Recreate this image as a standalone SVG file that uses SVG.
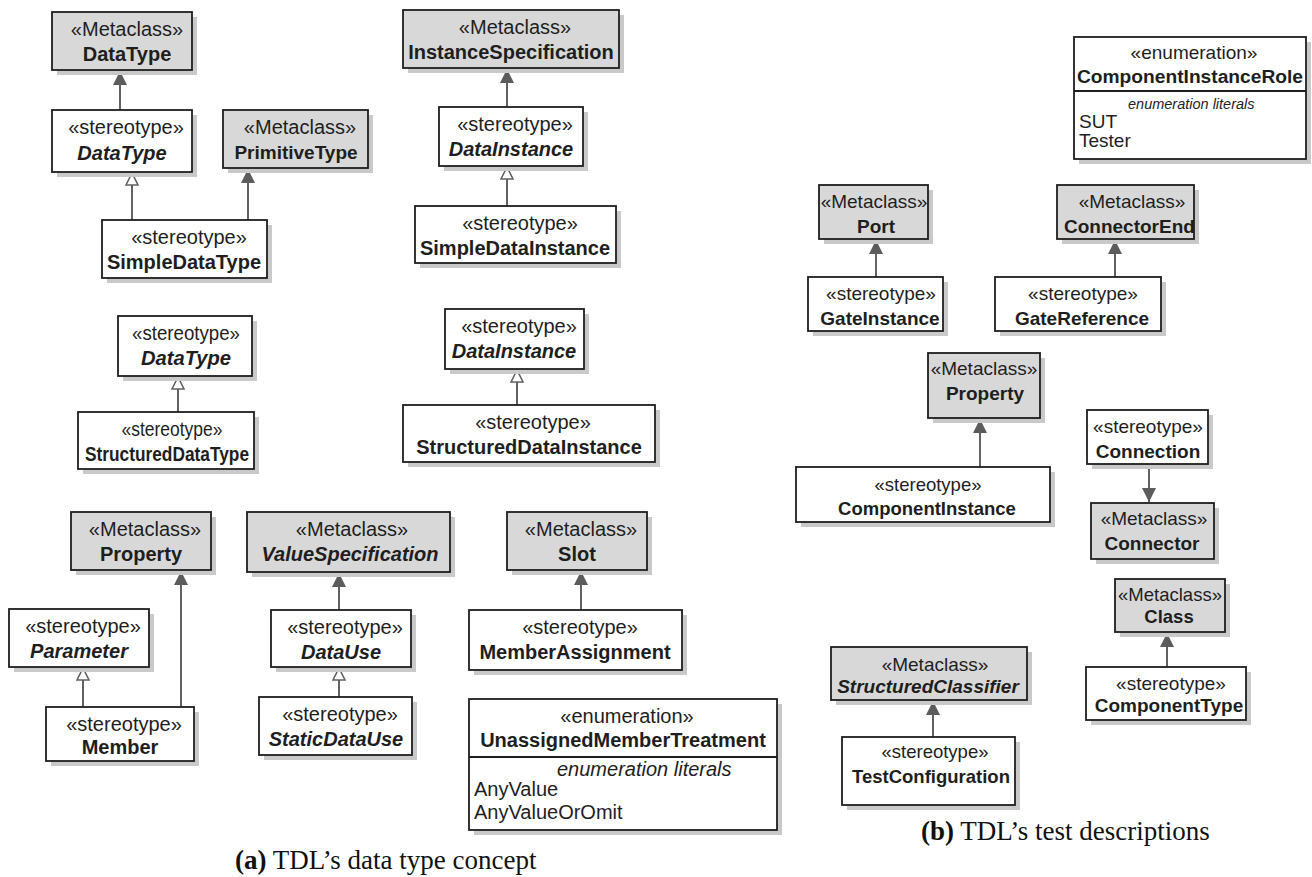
<svg xmlns="http://www.w3.org/2000/svg" width="1312" height="877" viewBox="0 0 1312 877">
<style>
.sh{fill:#c9c9c9}
.meta{fill:#d8d8d8;stroke:#1e1e1e;stroke-width:1.8}
.st{fill:#ffffff;stroke:#1e1e1e;stroke-width:1.8}
.div{stroke:#1e1e1e;stroke-width:1.8}
text{font-family:"Liberation Sans",Arial,Helvetica,sans-serif;font-size:20px;fill:#1e1e1e}
.r text{font-size:19px}
.s185 text{font-size:18.5px}
.c{text-anchor:middle}
.b{font-weight:bold}
.i{font-style:italic}
.edge{stroke:#626262;stroke-width:2;fill:none}
.cap{font-family:"Liberation Serif","Times New Roman",serif;font-size:27px;fill:#111}
</style>
<defs>
<marker id="filled" viewBox="0 0 14 14" refX="14" refY="7" markerWidth="14" markerHeight="14" markerUnits="userSpaceOnUse" orient="auto">
<path d="M0,0 L14,7 L0,14 z" fill="#5c5c5c"/>
</marker>
<marker id="hollow" viewBox="0 0 14 14" refX="13" refY="7" markerWidth="14" markerHeight="14" markerUnits="userSpaceOnUse" orient="auto">
<path d="M1,1 L13,7 L1,13 z" fill="#ffffff" stroke="#626262" stroke-width="1.6"/>
</marker>
<clipPath id="clipCE"><rect x="1057" y="185" width="137" height="54"/></clipPath>
</defs>

<g id="connectors">
<line class="edge" x1="120" y1="110" x2="120" y2="71" marker-end="url(#filled)"/>
<line class="edge" x1="132" y1="220" x2="132" y2="173" marker-end="url(#hollow)"/>
<line class="edge" x1="248" y1="220" x2="248" y2="169" marker-end="url(#filled)"/>
<line class="edge" x1="507" y1="107" x2="507" y2="69" marker-end="url(#filled)"/>
<line class="edge" x1="507" y1="206" x2="507" y2="167" marker-end="url(#hollow)"/>
<line class="edge" x1="178" y1="412" x2="178" y2="377" marker-end="url(#hollow)"/>
<line class="edge" x1="517" y1="405" x2="517" y2="370" marker-end="url(#hollow)"/>
<line class="edge" x1="83" y1="707" x2="83" y2="668" marker-end="url(#hollow)"/>
<line class="edge" x1="181" y1="707" x2="181" y2="571" marker-end="url(#filled)"/>
<line class="edge" x1="339" y1="610" x2="339" y2="573" marker-end="url(#filled)"/>
<line class="edge" x1="339" y1="697" x2="339" y2="668" marker-end="url(#hollow)"/>
<line class="edge" x1="581" y1="610" x2="581" y2="571" marker-end="url(#filled)"/>
<line class="edge" x1="876" y1="277" x2="876" y2="240" marker-end="url(#filled)"/>
<line class="edge" x1="1115" y1="277" x2="1115" y2="240" marker-end="url(#filled)"/>
<line class="edge" x1="980" y1="467" x2="980" y2="419" marker-end="url(#filled)"/>
<line class="edge" x1="1149" y1="464" x2="1149" y2="502" marker-end="url(#filled)"/>
<line class="edge" x1="1167" y1="667" x2="1167" y2="633" marker-end="url(#filled)"/>
<line class="edge" x1="933" y1="737" x2="933" y2="701" marker-end="url(#filled)"/>
</g>

<!-- (a) -->
<g id="mDataType"><rect class="sh" x="57" y="17" width="140" height="58"/><rect class="meta" x="52" y="12" width="140" height="58"/>
<text class="c" x="127" y="36">«Metaclass»</text><text class="c b" x="127" y="61">DataType</text></g>

<g id="sDataType1"><rect class="sh" x="57" y="115" width="140" height="62"/><rect class="st" x="52" y="110" width="140" height="62"/>
<text class="c" x="126" y="134">«stereotype»</text><text class="c b i" x="122" y="160">DataType</text></g>

<g id="mPrimitiveType"><rect class="sh" x="228" y="115" width="145" height="58"/><rect class="meta" x="223" y="110" width="145" height="58"/>
<text class="c" x="300" y="134">«Metaclass»</text><text class="c b" x="296" y="159" style="font-size:19px">PrimitiveType</text></g>

<g id="sSimpleDataType"><rect class="sh" x="107" y="225" width="165" height="58"/><rect class="st" x="102" y="220" width="165" height="58"/>
<text class="c" x="189" y="244">«stereotype»</text><text class="c b" x="184" y="269">SimpleDataType</text></g>

<g id="mInstanceSpecification"><rect class="sh" x="408" y="15" width="216" height="58"/><rect class="meta" x="403" y="10" width="216" height="58"/>
<text class="c" x="515" y="34">«Metaclass»</text><text class="c b" x="511" y="59">InstanceSpecification</text></g>

<g id="sDataInstance1"><rect class="sh" x="444" y="112" width="144" height="59"/><rect class="st" x="439" y="107" width="144" height="59"/>
<text class="c" x="515" y="131">«stereotype»</text><text class="c b i" x="511" y="156">DataInstance</text></g>

<g id="sSimpleDataInstance"><rect class="sh" x="420" y="211" width="201" height="57"/><rect class="st" x="415" y="206" width="201" height="57"/>
<text class="c" x="520" y="230">«stereotype»</text><text class="c b" x="515" y="255">SimpleDataInstance</text></g>

<g id="sDataType2"><rect class="sh" x="123" y="321" width="134" height="60"/><rect class="st" x="118" y="316" width="134" height="60"/>
<text class="c" x="186" y="340" textLength="108" lengthAdjust="spacingAndGlyphs">«stereotype»</text><text class="c b i" x="186" y="365" textLength="90" lengthAdjust="spacingAndGlyphs">DataType</text></g>

<g id="sStructuredDataType"><rect class="sh" x="83" y="417" width="176" height="57"/><rect class="st" x="78" y="412" width="176" height="57"/>
<text class="c" x="172" y="436" textLength="101" lengthAdjust="spacingAndGlyphs">«stereotype»</text><text class="c b" x="167" y="461" textLength="164" lengthAdjust="spacingAndGlyphs">StructuredDataType</text></g>

<g id="sDataInstance2"><rect class="sh" x="450" y="314" width="139" height="60"/><rect class="st" x="445" y="309" width="139" height="60"/>
<text class="c" x="519" y="333">«stereotype»</text><text class="c b i" x="514" y="358">DataInstance</text></g>

<g id="sStructuredDataInstance"><rect class="sh" x="408" y="410" width="252" height="57"/><rect class="st" x="403" y="405" width="252" height="57"/>
<text class="c" x="533" y="429">«stereotype»</text><text class="c b" x="529" y="454">StructuredDataInstance</text></g>

<g id="mProperty1"><rect class="sh" x="76" y="517" width="140" height="58"/><rect class="meta" x="71" y="512" width="140" height="58"/>
<text class="c" x="145" y="536">«Metaclass»</text><text class="c b" x="141" y="561">Property</text></g>

<g id="sParameter"><rect class="sh" x="14" y="614" width="140" height="58"/><rect class="st" x="9" y="609" width="140" height="58"/>
<text class="c" x="83" y="633">«stereotype»</text><text class="c b i" x="79" y="658">Parameter</text></g>

<g id="sMember"><rect class="sh" x="51" y="712" width="148" height="54"/><rect class="st" x="46" y="707" width="148" height="54"/>
<text class="c" x="124" y="731">«stereotype»</text><text class="c b" x="120" y="754">Member</text></g>

<g id="mValueSpecification"><rect class="sh" x="252" y="517" width="203" height="60"/><rect class="meta" x="247" y="512" width="203" height="60"/>
<text class="c" x="352" y="536">«Metaclass»</text><text class="c b i" x="350" y="561">ValueSpecification</text></g>

<g id="sDataUse"><rect class="sh" x="276" y="615" width="140" height="57"/><rect class="st" x="271" y="610" width="140" height="57"/>
<text class="c" x="345" y="634">«stereotype»</text><text class="c b i" x="341" y="659">DataUse</text></g>

<g id="sStaticDataUse"><rect class="sh" x="264" y="702" width="153" height="58"/><rect class="st" x="259" y="697" width="153" height="58"/>
<text class="c" x="340" y="721">«stereotype»</text><text class="c b i" x="336" y="746">StaticDataUse</text></g>

<g id="mSlot"><rect class="sh" x="512" y="517" width="140" height="58"/><rect class="meta" x="507" y="512" width="140" height="58"/>
<text class="c" x="581" y="536">«Metaclass»</text><text class="c b" x="577" y="561">Slot</text></g>

<g id="sMemberAssignment"><rect class="sh" x="474" y="615" width="213" height="60"/><rect class="st" x="469" y="610" width="213" height="60"/>
<text class="c" x="580" y="634">«stereotype»</text><text class="c b" x="575" y="659">MemberAssignment</text></g>

<g id="eUnassignedMemberTreatment"><rect class="sh" x="474" y="704" width="308" height="131"/><rect class="st" x="469" y="699" width="308" height="131"/>
<line class="div" x1="469" y1="757" x2="777" y2="757"/>
<text class="c" x="627" y="723">«enumeration»</text><text class="c b" x="623" y="747">UnassignedMemberTreatment</text>
<text class="i" x="557" y="776">enumeration literals</text>
<text x="474" y="796">AnyValue</text><text x="474" y="819">AnyValueOrOmit</text></g>

<!-- (b) -->
<g id="eComponentInstanceRole"><rect class="sh" x="1079" y="42" width="232" height="122"/><rect class="st" x="1074" y="37" width="232" height="122"/>
<line class="div" x1="1074" y1="91" x2="1306" y2="91"/>
<text class="c" x="1194" y="59" style="font-size:19px">«enumeration»</text><text class="c b" x="1190" y="83" style="font-size:19.2px">ComponentInstanceRole</text>
<text class="i" x="1128" y="109" style="font-size:14.5px">enumeration literals</text>
<text x="1079" y="128" style="font-size:19px">SUT</text><text x="1079" y="147" style="font-size:19px">Tester</text></g>

<g id="mPort" class="r"><rect class="sh" x="824" y="190" width="109" height="54"/><rect class="meta" x="819" y="185" width="109" height="54"/>
<text class="c" x="874" y="208">«Metaclass»</text><text class="c b" x="876" y="233">Port</text></g>

<g id="mConnectorEnd" class="r"><rect class="sh" x="1062" y="190" width="137" height="54"/><rect class="meta" x="1057" y="185" width="137" height="54"/>
<text class="c" x="1132" y="208">«Metaclass»</text><text class="b" x="1064" y="233" clip-path="url(#clipCE)">ConnectorEnd</text></g>

<g id="sGateInstance" class="r"><rect class="sh" x="813" y="282" width="135" height="54"/><rect class="st" x="808" y="277" width="135" height="54"/>
<text class="c" x="881" y="300">«stereotype»</text><text class="c b" x="880" y="325">GateInstance</text></g>

<g id="sGateReference" class="r"><rect class="sh" x="1000" y="282" width="166" height="54"/><rect class="st" x="995" y="277" width="166" height="54"/>
<text class="c" x="1083" y="300">«stereotype»</text><text class="c b" x="1082" y="325">GateReference</text></g>

<g id="mProperty2" class="r"><rect class="sh" x="933" y="358" width="112" height="65"/><rect class="meta" x="928" y="353" width="112" height="65"/>
<text class="c" x="984" y="375">«Metaclass»</text><text class="c b" x="985" y="400">Property</text></g>

<g id="sComponentInstance" class="s185"><rect class="sh" x="801" y="472" width="254" height="55"/><rect class="st" x="796" y="467" width="254" height="55"/>
<text class="c" x="928" y="491">«stereotype»</text><text class="c b" x="927" y="515">ComponentInstance</text></g>

<g id="sConnection" class="r"><rect class="sh" x="1092" y="415" width="121" height="54"/><rect class="st" x="1087" y="410" width="121" height="54"/>
<text class="c" x="1148" y="433">«stereotype»</text><text class="c b" x="1148" y="458">Connection</text></g>

<g id="mConnector" class="r"><rect class="sh" x="1096" y="508" width="123" height="56"/><rect class="meta" x="1091" y="503" width="123" height="56"/>
<text class="c" x="1154" y="525">«Metaclass»</text><text class="c b" x="1152" y="550">Connector</text></g>

<g id="mClass" class="s185"><rect class="sh" x="1120" y="584" width="110" height="53"/><rect class="meta" x="1115" y="579" width="110" height="53"/>
<text class="c" x="1170" y="601">«Metaclass»</text><text class="c b" x="1169" y="623">Class</text></g>

<g id="sComponentType" class="r"><rect class="sh" x="1091" y="672" width="160" height="53"/><rect class="st" x="1086" y="667" width="160" height="53"/>
<text class="c" x="1171" y="690">«stereotype»</text><text class="c b" x="1169" y="712">ComponentType</text></g>

<g id="mStructuredClassifier" class="r"><rect class="sh" x="836" y="652" width="196" height="53"/><rect class="meta" x="831" y="647" width="196" height="53"/>
<text class="c" x="935" y="671">«Metaclass»</text><text class="c b i" x="928" y="693">StructuredClassifier</text></g>

<g id="sTestConfiguration" class="s185"><rect class="sh" x="847" y="742" width="173" height="68"/><rect class="st" x="842" y="737" width="173" height="68"/>
<text class="c" x="935" y="758">«stereotype»</text><text class="c b" x="931" y="783">TestConfiguration</text></g>

<text class="cap" x="235" y="869"><tspan font-weight="bold">(a)</tspan> TDL’s data type concept</text>
<text class="cap" x="921" y="840"><tspan font-weight="bold">(b)</tspan> TDL’s test descriptions</text>
</svg>
